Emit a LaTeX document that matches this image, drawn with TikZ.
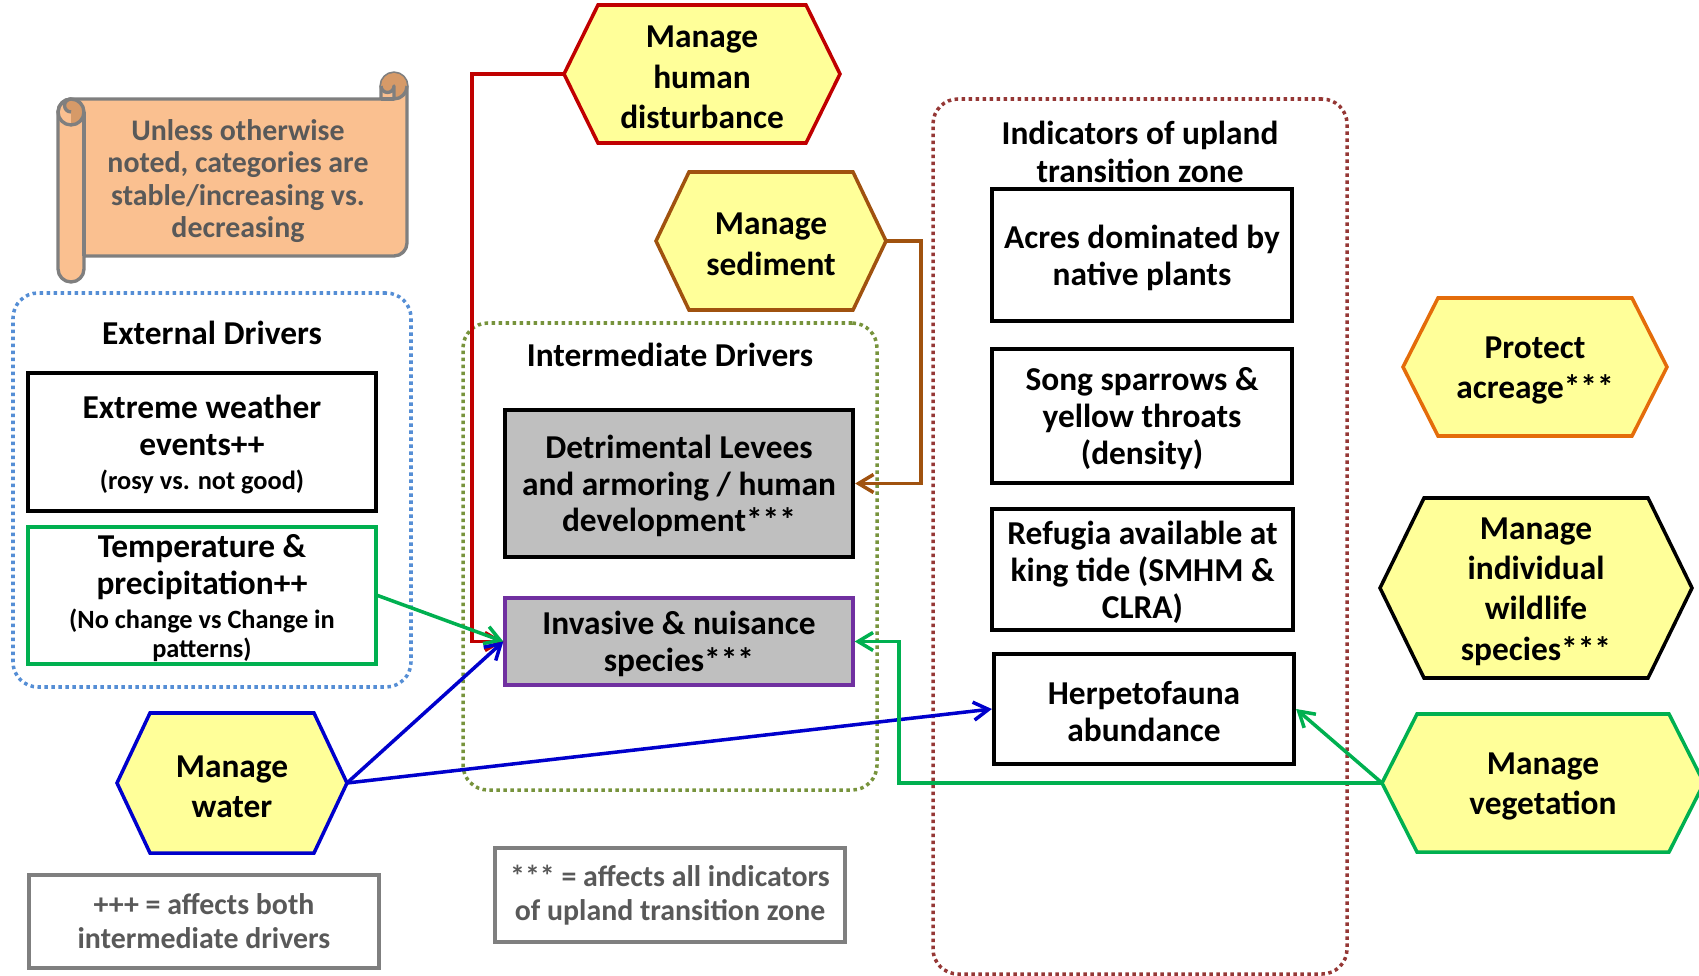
\documentclass[tikz,border=0pt]{standalone}
\usepackage{fontspec}
\setmainfont{Carlito}
\usetikzlibrary{arrows.meta,fit}

\definecolor{hexfill}{HTML}{FFFF99}
\definecolor{mred}{HTML}{C00000}
\definecolor{mbrown}{HTML}{A0520F}
\definecolor{morange}{HTML}{E46C0A}
\definecolor{mgreen}{HTML}{00B050}
\definecolor{mblue}{HTML}{0000CC}
\definecolor{mpurple}{HTML}{7030A0}
\definecolor{boxgray}{HTML}{BFBFBF}
\definecolor{edgegray}{HTML}{7F7F7F}
\definecolor{textgray}{HTML}{595959}
\definecolor{scrollfill}{HTML}{FAC090}
\definecolor{scrolldark}{HTML}{D69A68}
\definecolor{extblue}{HTML}{558ED5}
\definecolor{intolive}{HTML}{77933C}
\definecolor{indred}{HTML}{953735}

\newcommand\subtext{\fontsize{15}{17}\selectfont}

% hexagon: name, centre x, centre y (down), half width, half height, inset, colour, text
\newcommand\hexshape[8]{%
  \draw[hexline, draw=#7] (#2-#4,-#3) -- (#2-#4+#6,-#3+#5) -- (#2+#4-#6,-#3+#5)
    -- (#2+#4,-#3) -- (#2+#4-#6,-#3-#5) -- (#2-#4+#6,-#3-#5) -- cycle;
  \node[hextext] (#1) at (#2,-#3) {#8};
  \coordinate (#1-w) at (#2-#4,-#3);
  \coordinate (#1-e) at (#2+#4,-#3);
}

\tikzset{
  hexline/.style={line width=2pt, fill=hexfill, line join=miter},
  hextext/.style={align=center, inner sep=0pt, yshift=-0.07cm,
    font=\bfseries\fontsize{19}{23}\selectfont},
  boxtext/.style={align=center, inner sep=0pt, yshift=-0.05cm,
    font=\bfseries\fontsize{19}{21}\selectfont},
  titletext/.style={align=center, inner sep=0pt, font=\bfseries\fontsize{19}{21.5}\selectfont},
  blackbox/.style={inner sep=0pt, draw=black, line width=2.4pt},
  legendbox/.style={inner sep=0pt, draw=edgegray, line width=1.9pt},
  legendtext/.style={align=center, inner sep=0pt, text=textgray,
    font=\bfseries\fontsize{17}{19.3}\selectfont},
  grpbox/.style={inner sep=0pt, line width=2pt, dash pattern=on 0.07cm off 0.07cm,
    rounded corners=0.5cm},
  scrollline/.style={draw=edgegray, line width=1.9pt, line join=round},
  arrowlink/.style={line width=2pt, -{Straight Barb[length=0.3cm,width=0.36cm]}},
}

\begin{document}
\begin{tikzpicture}[x=0.02cm,y=0.02cm]
\useasboundingbox (0,0) rectangle (1699,-976);
\clip (0,0) rectangle (1699,-976);

% ---- note scroll ----
\draw[scrollline, fill=scrollfill] (71,-99) -- (381,-99) -- (381,-86)
  arc[start angle=180,end angle=0,radius=13] -- (407,-243)
  arc[start angle=0,end angle=-90,radius=13] -- (84,-256) -- (84,-269)
  arc[start angle=0,end angle=-180,radius=13] -- (58,-112)
  arc[start angle=180,end angle=90,radius=13] -- cycle;
\fill[scrolldark] (381,-86) arc[start angle=180,end angle=0,radius=13]
  arc[start angle=0,end angle=-90,radius=13] -- (394,-86)
  arc[start angle=0,end angle=-180,radius=6.5] -- cycle;
\draw[scrollline] (407,-86) arc[start angle=0,end angle=-90,radius=13] -- (394,-86)
  arc[start angle=0,end angle=-180,radius=6.5];
\draw[scrollline] (381,-99) -- (394,-99);
\fill[scrolldark] (71,-125) arc[start angle=-90,end angle=90,radius=13]
  arc[start angle=90,end angle=270,radius=6.5] -- cycle;
\draw[scrollline] (71,-112) circle[radius=13];
\draw[scrollline] (71,-99) arc[start angle=90,end angle=270,radius=6.5];
\draw[scrollline] (84,-112) -- (84,-256);
\node[align=center, inner sep=0pt, text=textgray, font=\bfseries\fontsize{17}{18.4}\selectfont]
  (note) at (238,-181) {Unless otherwise\\noted, categories are\\stable/increasing vs.\\decreasing};

% ---- groups ----
\node[grpbox, draw=extblue, fit={(13,-293) (411,-687)}] (ext) {};
\node[titletext] (exttitle) at (212,-333) {External Drivers};
\node[grpbox, draw=intolive, fit={(463,-323) (877,-790)}] (intm) {};
\node[titletext] (inttitle) at (670,-355) {Intermediate Drivers};
\node[grpbox, draw=indred, fit={(933,-99) (1347,-974)}] (indi) {};
\node[titletext] (indtitle) at (1140,-152) {Indicators of upland\\transition zone};

% ---- boxes ----
\node[blackbox, fit={(28,-373) (376,-511)}] (ew) {};
\node[boxtext] (ew-t) at (ew.center)
  {Extreme weather\\events++\\[-1.5pt]\subtext (rosy vs. not good)};
\node[blackbox, draw=mgreen, line width=1.9pt, fit={(28,-527) (376,-664)}] (temp) {};
\node[boxtext] (temp-t) at (temp.center)
  {Temperature \&\\precipitation++\\[-1.5pt]\subtext (No change vs Change in\\[-4.5pt]\subtext patterns)};
\node[blackbox, fill=boxgray, fit={(505,-410) (853,-557)}] (det) {};
\node[boxtext] (det-t) at (det.center) {Detrimental Levees\\and armoring / human\\development***};
\node[blackbox, fill=boxgray, draw=mpurple, line width=1.9pt, fit={(505,-598) (853,-685)}] (inv) {};
\node[boxtext] (inv-t) at (inv.center) {Invasive \& nuisance\\species***};
\node[blackbox, fit={(992,-189) (1292,-321)}] (acres) {};
\node[boxtext] (acres-t) at (acres.center) {Acres dominated by\\native plants};
\node[blackbox, fit={(992,-349) (1292,-483)}] (song) {};
\node[boxtext] (song-t) at (song.center) {Song sparrows \&\\yellow throats\\(density)};
\node[blackbox, fit={(992,-509) (1293,-630)}] (ref) {};
\node[boxtext] (ref-t) at (ref.center) {Refugia available at\\king tide (SMHM \&\\CLRA)};
\node[blackbox, fit={(994,-654) (1294,-764)}] (herp) {};
\node[boxtext] (herp-t) at (herp.center) {Herpetofauna\\abundance};

\node[legendbox, fit={(29,-875) (379,-968)}] (leg1) {};
\node[legendtext] (leg1-t) at (leg1.center) {+++ = affects both\\intermediate drivers};
\node[legendbox, fit={(495,-848) (845,-942)}] (leg2) {};
\node[legendtext] (leg2-t) at (leg2.center) {*** = affects all indicators\\of upland transition zone};

% ---- management actions ----
\hexshape{mhd}{702}{74}{138}{69}{34}{mred}{Manage\\human\\disturbance}
\hexshape{msed}{771}{241}{115}{69}{33}{mbrown}{Manage\\sediment}
\hexshape{pa}{1535}{367}{132}{69}{35}{morange}{Protect\\acreage***}
\hexshape{miws}{1536}{588}{156}{90}{44}{black}{Manage\\individual\\wildlife\\species***}
\hexshape{mveg}{1543}{783}{161}{69}{35}{mgreen}{Manage\\vegetation}
\hexshape{mw}{232}{783}{115}{70}{33}{mblue}{Manage\\water}

% ---- connectors ----
\draw[arrowlink, mred] (mhd-w) -- ++(-92,0) |- (inv.west);
\draw[arrowlink, mbrown] (msed-e) -- ++(35,0) |- (det.east);
\draw[arrowlink, mgreen] (temp.east) -- (inv.west);
\draw[arrowlink, mblue] (mw-e) -- (inv.west);
\draw[arrowlink, mblue] (mw-e) -- (herp.west);
\draw[arrowlink, mgreen] (mveg-w) -- (herp.east);
\draw[arrowlink, mgreen] (mveg-w) -- ++(-483,0) |- (inv.east);
\end{tikzpicture}
\end{document}
